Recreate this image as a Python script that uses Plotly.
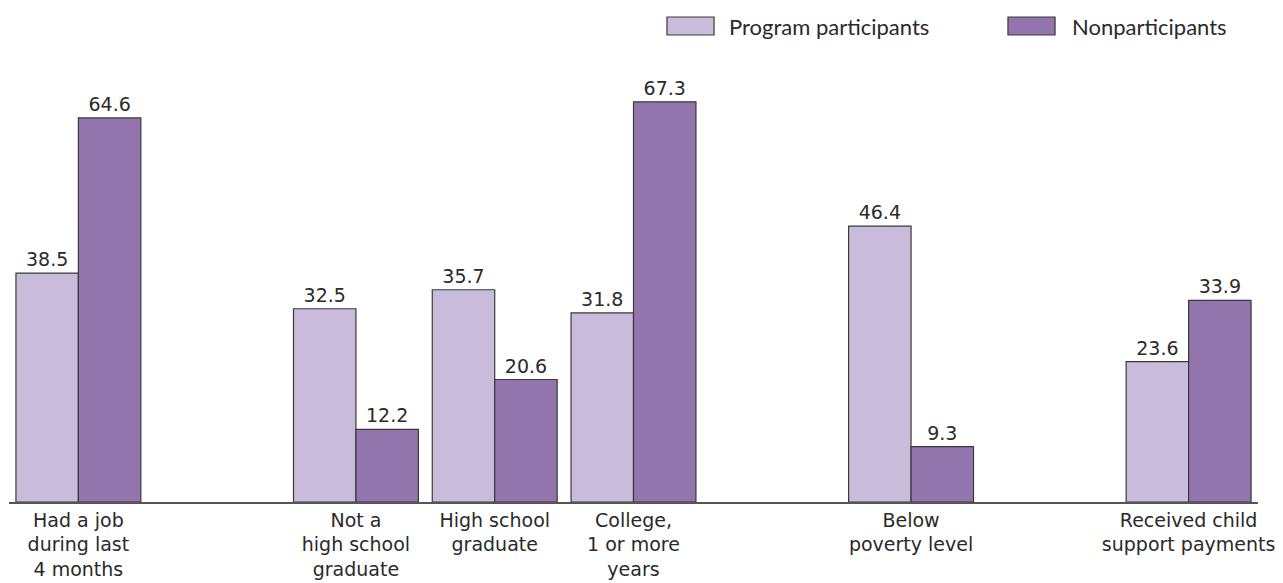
import plotly.graph_objects as go

categories = [
    "Had a job<br>during last<br>4 months",
    "Not a<br>high school<br>graduate",
    "High school<br>graduate",
    "College,<br>1 or more<br>years",
    "Below<br>poverty level",
    "Received child<br>support payments",
]
positions = [0, 2, 3, 4, 6, 8]
participants = [38.5, 32.5, 35.7, 31.8, 46.4, 23.6]
nonparticipants = [64.6, 12.2, 20.6, 67.3, 9.3, 33.9]
series_names = ["Program participants", "Nonparticipants"]
colors = ["#c9bbda", "#9275ad"]

FONT = "DejaVu Sans"
TXT = "#2a2a2a"

fig = go.Figure()
for name, vals, col in zip(series_names, [participants, nonparticipants], colors):
    fig.add_trace(go.Bar(
        x=positions, y=vals, name=name,
        marker=dict(color=col, line=dict(color="#3a3a3a", width=1.2)),
        text=[f"{v:.1f}" for v in vals], textposition="outside",
        textfont=dict(family=FONT, size=19, color=TXT),
        cliponaxis=False, showlegend=False,
    ))

# custom legend swatches
legend_x = [(0.5268, 0.5645, 0.5749), (0.7998, 0.8375, 0.8495)]
for (x0, x1, xt), name, col in zip(legend_x, series_names, colors):
    fig.add_shape(type="rect", xref="paper", yref="paper", x0=x0, x1=x1,
                  y0=1.0108, y1=1.0498, fillcolor=col,
                  line=dict(color="#3a3a3a", width=1.2))
    fig.add_annotation(xref="paper", yref="paper", x=xt, y=1.029, text=name,
                       showarrow=False, xanchor="left", yanchor="middle",
                       font=dict(family="Lato", size=22, color=TXT))

fig.update_layout(
    width=1283, height=583,
    margin=dict(l=1, r=33, t=32, b=89),
    barmode="group", bargap=0.1, bargroupgap=0,
    plot_bgcolor="white", paper_bgcolor="white",
    font=dict(family=FONT, size=19, color=TXT),
    xaxis=dict(range=[-0.5, 8.5], tickvals=positions, ticktext=categories,
               showgrid=False, zeroline=False, showline=True,
               linecolor="#555", linewidth=1.5, ticks="",
               tickfont=dict(family=FONT, size=19, color=TXT)),
    yaxis=dict(range=[0, 77.7], visible=False),
)

fig.write_html("out.html")
